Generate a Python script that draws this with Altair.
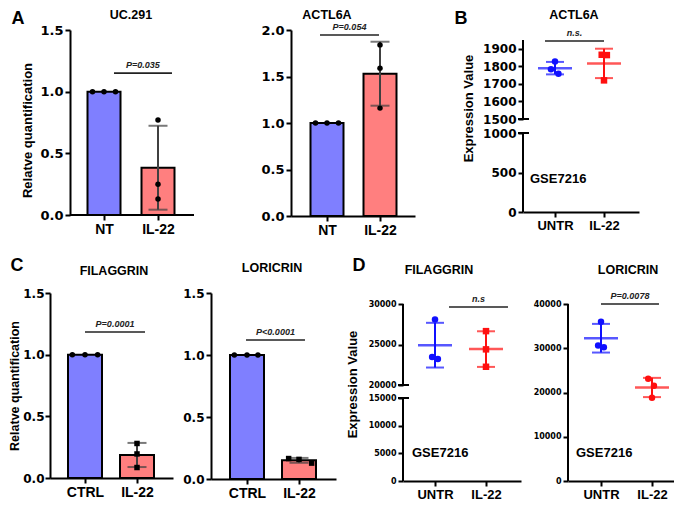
import altair as alt
import pandas as pd

FONT = "Liberation Sans"
NUMFONT = "DejaVu Sans"

# ---------------- values ----------------
A_GROUPS = ["NT", "IL-22"]
UC291_NT = [1.0, 1.0, 1.0]
UC291_IL22 = [0.77, 0.25, 0.13]
ACTL6A_NT = [1.0, 1.0, 1.0]
ACTL6A_IL22 = [1.84, 1.59, 1.16]

B_GROUPS = ["UNTR", "IL-22"]
B_UNTR = [1828, 1783, 1758]
B_IL22 = [1866, 1864, 1720]

C_GROUPS = ["CTRL", "IL-22"]
FLG_CTRL = [1.0, 1.0, 1.0]
FLG_IL22 = [0.28, 0.195, 0.085]
LOR_CTRL = [1.0, 1.0, 1.0]
LOR_IL22 = [0.165, 0.158, 0.128]

D_GROUPS = ["UNTR", "IL-22"]
DFLG_UNTR = [28100, 23450, 23200]
DFLG_IL22 = [26650, 24400, 22250]
DLOR_UNTR = [36000, 30600, 30200]
DLOR_IL22 = [23100, 21500, 18800]

P_UC291 = "P=0.035"
P_ACTL6A = "P=0.054"
P_B = "n.s."
P_FLG = "P=0.0001"
P_LOR = "P<0.0001"
P_DFLG = "n.s"
P_DLOR = "P=0.0078"

BAR_COLORS = ["#7F7FFF", "#FF7F7F"]
DOT_COLORS = ["#1010FF", "#FF1010"]
SLOT_PX = 11.5


def fwd(v, segs):
    if segs is None:
        return v
    for i, (v0, v1, p0, p1) in enumerate(segs):
        if i == len(segs) - 1 or v <= (v1 + segs[i + 1][0]) / 2:
            return p0 + (v - v0) * (p1 - p0) / (v1 - v0)


def fwd_expr(f, segs):
    if segs is None:
        return f
    expr = None
    for i in range(len(segs) - 1, -1, -1):
        v0, v1, p0, p1 = segs[i]
        lin = f"({p0} + ({f} - {v0}) * {(p1 - p0) / (v1 - v0)!r})"
        if expr is None:
            expr = lin
        else:
            thr = (v1 + segs[i + 1][0]) / 2
            expr = f"({f} <= {thr} ? {lin} : {expr})"
    return expr


def inv_expr(segs):
    f = "datum.value"
    expr = None
    for i in range(len(segs) - 1, -1, -1):
        v0, v1, p0, p1 = segs[i]
        lin = f"({v0} + ({f} - {p0}) * {(v1 - v0) / (p1 - p0)!r})"
        if expr is None:
            expr = lin
        else:
            thr = (p1 + segs[i + 1][2]) / 2
            expr = f"({f} <= {thr} ? {lin} : {expr})"
    return f"format({expr}, 'd')"


def text_layer(t, x, y, size, align="center", baseline="middle", opacity=1):
    return alt.Chart(pd.DataFrame({"t": [t]})).mark_text(
        font=FONT, fontSize=size, fontWeight="bold", color="black",
        align=align, baseline=baseline, opacity=opacity).encode(
        x=alt.value(x), y=alt.value(y), text="t:N")


def panel(c):
    groups = c["groups"]
    vals0, vals1 = c["vals"]
    s0, s1 = c["slots"]
    W, H = c["width"], c["height"]
    c0, c1 = c["centers"]
    unit = c1 - c0
    segs = c.get("segs")
    kind = c["kind"]
    yoff = c.get("yoff", 0)
    colors = BAR_COLORS if kind == "bar" else DOT_COLORS
    shapes = c["shapes"]

    xscale = alt.Scale(domain=[-c0 / unit, (W - c0) / unit], nice=False, zero=False, padding=0)
    xaxis = alt.Axis(values=[0, 1], labelExpr=f"datum.value < 0.5 ? '{groups[0]}' : '{groups[1]}'",
                     title=None, grid=False, domain=yoff == 0, domainColor="black", domainWidth=2,
                     tickColor="black", tickWidth=2, tickSize=5, labelFont=FONT,
                     labelFontWeight="bold", labelFontSize=c["xlab"], labelColor="black",
                     labelPadding=2, labelFlush=False, labelOverlap=False)
    if segs is None:
        yscale = alt.Scale(domain=[0, c["ymax"]], nice=False, zero=True, padding=0)
        tickvals = c["yticks"]
    else:
        yscale = alt.Scale(domain=[0, H], nice=False, zero=True, padding=0)
        tickvals = [fwd(t, segs) for t in c["yticks"]]
    ak = dict(values=tickvals, grid=False, domain=segs is None, domainColor="black", domainWidth=2,
              tickColor="black", tickWidth=2, tickSize=5, labelFont=NUMFONT, labelFontWeight="bold",
              labelFontSize=c["ylab"], labelColor="black", labelPadding=c.get("ylabpad", 2),
              labelFlush=False, labelOverlap=False, offset=-yoff)
    if c.get("ytitle"):
        ak.update(title=c["ytitle"], titleFont=FONT, titleFontWeight="bold",
                  titleFontSize=c.get("ytitle_size", 13), titleColor="black",
                  titlePadding=c.get("ytitle_pad", 4))
        if c.get("ytitle_y") is not None:
            ak["titleY"] = c["ytitle_y"]
    else:
        ak["title"] = None
    if segs is None:
        ak["format"] = ".1f"
    else:
        ak["labelExpr"] = inv_expr(segs)
    yaxis = alt.Axis(**ak)

    def X(f):
        return alt.X(f, type="quantitative", scale=xscale, axis=xaxis)

    def Y(f):
        return alt.Y(f, type="quantitative", scale=yscale, axis=yaxis)

    df = pd.DataFrame({
        "g": [0] * len(vals0) + [1] * len(vals1),
        "v": list(vals0) + list(vals1),
        "slot": list(s0) + list(s1),
    })
    base = alt.Chart(df)
    k = SLOT_PX / unit
    colexpr = f"datum.g == 0 ? '{colors[0]}' : '{colors[1]}'"
    shpexpr = f"datum.g == 0 ? '{shapes[0]}' : '{shapes[1]}'"

    summ = (base.transform_aggregate(m="mean(v)", sd="stdev(v)", groupby=["g"])
            .transform_calculate(lo="datum.m - datum.sd", hi="datum.m + datum.sd", col=colexpr)
            .transform_calculate(md=fwd_expr("datum.m", segs), lod=fwd_expr("datum.lo", segs),
                                 hid=fwd_expr("datum.hi", segs)))
    pts = base.transform_calculate(xp=f"datum.g + datum.slot * {k!r}",
                                   yd=fwd_expr("datum.v", segs), col=colexpr, shp=shpexpr)

    layers = []
    if kind == "bar":
        layers.append(summ.mark_bar(orient="vertical", width=c["bar_width"], stroke="black",
                                    strokeWidth=2).encode(
            x=X("g"), y=Y("md"), fill=alt.Fill("col:N", scale=None)))
        ecol = "#404040"
        err = summ.transform_filter("datum.sd > 0")
        layers.append(err.mark_rule(color=ecol, strokeWidth=2).encode(
            x=X("g"), y=Y("lod"), y2="hid:Q"))
        layers.append(err.transform_fold(["lod", "hid"], as_=["w", "cap"]).mark_tick(
            orient="horizontal", size=19, thickness=2, color=ecol).encode(x=X("g"), y=Y("cap")))
        layers.append(pts.mark_point(filled=True, opacity=1, size=c.get("psize", 30), color="black",
                                     strokeWidth=0).encode(
            x=X("xp"), y=Y("yd"), shape=alt.Shape("shp:N", scale=None)))
    else:
        layers.append(summ.mark_rule(strokeWidth=2).encode(
            x=X("g"), y=Y("lod"), y2="hid:Q", color=alt.Color("col:N", scale=None)))
        layers.append(summ.transform_fold(["lod", "hid"], as_=["w", "cap"]).mark_tick(
            orient="horizontal", size=18, thickness=2).encode(
            x=X("g"), y=Y("cap"), color=alt.Color("col:N", scale=None)))
        layers.append(summ.mark_tick(orient="horizontal", size=34, thickness=2.5).encode(
            x=X("g"), y=Y("md"), color=alt.Color("col:N", scale=None)))
        layers.append(pts.mark_point(filled=True, opacity=1, size=c.get("psize", 42),
                                     strokeWidth=0).encode(
            x=X("xp"), y=Y("yd"), shape=alt.Shape("shp:N", scale=None),
            color=alt.Color("col:N", scale=None)))
        # broken / custom axis line
        adf = pd.DataFrame({"p0": [s[2] for s in segs], "p1": [s[3] for s in segs]})
        layers.append(alt.Chart(adf).mark_rule(color="black", strokeWidth=2).encode(
            x=alt.value(0), y=Y("p0"), y2="p1:Q"))
        if len(segs) > 1:
            bdf = pd.DataFrame({"pb": [segs[0][3], segs[1][2]]})
            layers.append(alt.Chart(bdf).mark_rule(color="black", strokeWidth=2).encode(
                x=alt.value(-5), x2=alt.value(6), y=Y("pb")))
    if yoff:
        # x axis baseline starting at the shifted y axis
        layers.append(alt.Chart(pd.DataFrame({"t": [0]})).mark_rule(
            color="black", strokeWidth=2).encode(x=alt.value(yoff), x2=alt.value(W),
                                                 y=alt.value(H)))

    # significance bracket
    sx0, sx1, sy, stext = c["sig"]
    sdf = pd.DataFrame({"a": [sx0], "b": [sx1], "m": [(sx0 + sx1) / 2], "y": [fwd(sy, segs)],
                        "t": [stext]})
    layers.append(alt.Chart(sdf).mark_rule(color="#222222", strokeWidth=1.6).encode(
        x=X("a"), x2="b:Q", y=Y("y")))
    layers.append(alt.Chart(sdf).mark_text(font=FONT, fontSize=9, fontWeight="bold",
                                           fontStyle="italic", color="#222222", dy=-8,
                                           baseline="middle").encode(
        x=X("m"), y=Y("y"), text="t:N"))

    tx, ty = c["title_pos"]
    layers.append(text_layer(c["title"], tx, ty, 12.5))
    if c.get("gse"):
        gx, gy = c["gse"]
        layers.append(text_layer("GSE7216", gx, gy, 13, align="left"))
    if c.get("letter"):
        lt, lx, ly = c["letter"]
        layers.append(text_layer(lt, lx, ly, 18))
    for mx, my in c.get("markers", []):
        layers.append(text_layer(".", mx, my, 4, align="left", baseline="top", opacity=0))

    return alt.layer(*layers).properties(width=W, height=H)


# A1 plot area starts 20 px left of its y axis so that rows line up with panel C
A1 = panel(dict(groups=A_GROUPS, vals=(UC291_NT, UC291_IL22), slots=([-1, 0, 1], [0, 0, 0]),
                kind="bar", width=144, height=185, centers=(54, 108), yoff=20, ymax=1.5,
                yticks=[0, 0.5, 1.0, 1.5], title="UC.291", title_pos=(81, -15.5),
                ytitle="Relatve quantification", ytitle_pad=5, ytitle_y=100, ylab=13, xlab=14,
                sig=(0.185, 1.259, 1.15, P_UC291), letter=("A", -32, -11),
                markers=[(-30, -22)], shapes=("circle", "circle"), bar_width=33))
A2 = panel(dict(groups=A_GROUPS, vals=(ACTL6A_NT, ACTL6A_IL22), slots=([-1, 0, 1], [0, 0, 0]),
                kind="bar", width=124, height=186, centers=(36, 89), ymax=2.0,
                yticks=[0, 0.5, 1.0, 1.5, 2.0], title="ACTL6A", title_pos=(36, -15.5),
                ylab=13, xlab=14, sig=(-0.132, 0.981, 1.946, P_ACTL6A),
                markers=[(-96, -20)], shapes=("circle", "circle"), bar_width=33))
B = panel(dict(groups=B_GROUPS, vals=(B_UNTR, B_IL22), slots=([0, -0.35, 0.3], [-0.2, 0.25, 0]),
               kind="dot", width=116, height=182, centers=(32, 81),
               segs=[(0, 1000, 0, 79), (1500, 1950, 93, 172)],
               yticks=[0, 500, 1000, 1500, 1600, 1700, 1800, 1900], title="ACTL6A",
               title_pos=(51, -15.5), ytitle="Expression Value", ytitle_pad=7, ytitle_y=78,
               ylab=12, xlab=13, sig=(-0.204, 1.0, 1944, P_B), letter=("B", -62, -11),
               markers=[(-108, -20)], gse=(7, 149), shapes=("circle", "square")))
C1 = panel(dict(groups=C_GROUPS, vals=(FLG_CTRL, FLG_IL22), slots=([-1.1, 0, 1.1], [0, 0, 0]),
                kind="bar", width=123, height=185, centers=(35, 87), ymax=1.5,
                yticks=[0, 0.5, 1.0, 1.5], title="FILAGGRIN", title_pos=(64, -22),
                ytitle="Relatve quantification", ytitle_pad=1, ytitle_size=12.5, ylabpad=1,
                ylab=12, xlab=14, sig=(0.0, 1.154, 1.184, P_FLG), letter=("C", -33, -27),
                markers=[(-38, -36)], shapes=("circle", "square"), bar_width=34))
C2 = panel(dict(groups=C_GROUPS, vals=(LOR_CTRL, LOR_IL22), slots=([-1.1, 0, 0.95], [-0.9, 0, 1.1]),
                kind="bar", width=125, height=186, centers=(36, 88), ymax=1.5,
                yticks=[0, 0.5, 1.0, 1.5], title="LORICRIN", title_pos=(61, -25),
                ylab=12, xlab=14, sig=(-0.019, 1.115, 1.121, P_LOR),
                markers=[(-38, -20)], shapes=("circle", "square"), bar_width=34))
D1 = panel(dict(groups=D_GROUPS, vals=(DFLG_UNTR, DFLG_IL22), slots=([0, -0.25, 0.25], [0, 0, 0]),
                kind="dot", width=118, height=188, centers=(32, 83),
                segs=[(0, 15000, 0, 83), (20000, 30000, 96, 177)],
                yticks=[0, 5000, 10000, 15000, 20000, 25000, 30000], title="FILAGGRIN",
                title_pos=(36, -23), ytitle="Expression Value", ytitle_pad=9,
                ytitle_y=91, ylab=8, xlab=13, sig=(0.275, 1.431, 29630, P_DFLG),
                letter=("D", -44, -27), markers=[(-67, -20)], gse=(9, 160),
                shapes=("circle", "square")))
D2 = panel(dict(groups=D_GROUPS, vals=(DLOR_UNTR, DLOR_IL22), slots=([0, -0.25, 0.25], [-0.33, 0.17, 0]),
                kind="dot", width=106, height=188, centers=(33, 84),
                segs=[(0, 40000, 0, 177)], yticks=[0, 10000, 20000, 30000, 40000],
                title="LORICRIN", title_pos=(60, -23), ylab=8, xlab=13,
                sig=(0.0, 1.137, 40000, P_DLOR), gse=(8, 160), markers=[(-47, -20)],
                shapes=("circle", "circle")))

row1 = alt.hconcat(A1, A2, B, spacing=0)
row2 = alt.hconcat(C1, C2, D1, D2, spacing=0)
chart = (alt.vconcat(row1, row2, spacing=20)
         .properties(padding={"left": 0, "top": 0, "right": 0, "bottom": 0}, background="white")
         .configure_view(strokeWidth=0))

chart.save("out.html", embed_options={"renderer": "svg", "actions": False})
